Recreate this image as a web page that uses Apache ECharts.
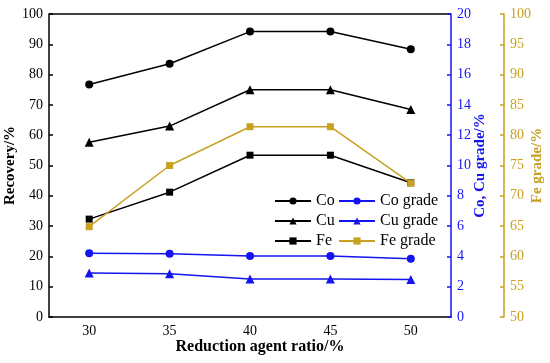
<!DOCTYPE html>
<html><head><meta charset="utf-8">
<script src="https://cdn.jsdelivr.net/npm/echarts@6/dist/echarts.min.js"></script>
<style>html,body{margin:0;padding:0;background:#fff}#c{width:550px;height:363px}</style>
</head><body><div id="c"></div>
<script>
const categories = ['30','35','40','45','50'];
const coRecovery = [76.7, 83.6, 94.2, 94.2, 88.4];
const cuRecovery = [57.7, 63.0, 75.0, 75.0, 68.5];
const feRecovery = [32.3, 41.2, 53.4, 53.4, 44.3];
const coGrade = [4.2, 4.18, 4.03, 4.02, 3.85];
const cuGrade = [2.9, 2.86, 2.51, 2.51, 2.47];
const feGrade = [64.9, 75.0, 81.4, 81.4, 72.1];

const BLUE = '#1414F0';
const GOLD = '#C9A020';
const FONT = '"Liberation Serif", "Times New Roman", serif';

const chart = echarts.init(document.getElementById('c'), null, {renderer:'canvas'});
function yAxisBase(color, min, max, interval, pos, offset, name, nameGap) {
  return {
    type:'value', min:min, max:max, interval:interval, position:pos, offset:offset,
    name:name, nameLocation:'middle', nameGap:nameGap, nameRotate:90, nameMoveOverlap:false,
    nameTextStyle:{fontFamily:FONT, fontWeight:'bold', fontSize:15, color:color},
    axisLine:{show:true, lineStyle:{color:color, width:1.5}},
    axisTick:{show:true, inside:true, length:4, lineStyle:{color:color, width:1.5}},
    axisLabel:{fontFamily:FONT, fontSize:14, color:color, margin:6},
    splitLine:{show:false}
  };
}
const lineStyleW = 1.5;
function ser(name, data, color, symbol, yIdx, size) {
  return {name:name, type:'line', data:data, yAxisIndex:yIdx, symbol:symbol, symbolSize:size,
    itemStyle:{color:color}, lineStyle:{color:color, width:lineStyleW}, animation:false};
}
chart.setOption({
  animation:false,
  grid:{left:49, right:99, top:14, bottom:46, containLabel:false, outerBoundsMode:'none'},
  legend:[
    {data:['Co','Cu','Fe'], orient:'vertical', left:269, top:188, itemWidth:36, itemHeight:9, itemGap:4,
     textStyle:{fontFamily:FONT, fontSize:16, color:'#000'}},
    {data:['Co grade','Cu grade','Fe grade'], orient:'vertical', left:333, top:188, itemWidth:36, itemHeight:9, itemGap:4,
     textStyle:{fontFamily:FONT, fontSize:16, color:'#000'}}
  ],
  xAxis:{
    type:'category', data:categories, boundaryGap:true,
    name:'Reduction agent ratio/%', nameLocation:'middle', nameGap:22, nameMoveOverlap:false,
    nameTextStyle:{fontFamily:FONT, fontWeight:'bold', fontSize:16, color:'#000', padding:[0,0,0,20], verticalAlign:'top'},
    axisLine:{lineStyle:{color:'#000', width:1.5}},
    axisTick:{alignWithLabel:true, inside:true, length:4, lineStyle:{color:'#000', width:1.5}},
    axisLabel:{fontFamily:FONT, fontSize:14, color:'#000', margin:7}
  },
  yAxis:[
    yAxisBase('#000', 0, 100, 10, 'left', 0, 'Recovery/%', 31),
    yAxisBase(BLUE, 0, 20, 2, 'right', 0, 'Co, Cu grade/%', 22),
    yAxisBase(GOLD, 50, 100, 5, 'right', 53, 'Fe grade/%', 26)
  ],
  series:[
    ser('Co', coRecovery, '#000', 'circle', 0, 8),
    ser('Cu', cuRecovery, '#000', 'triangle', 0, 9),
    ser('Fe', feRecovery, '#000', 'rect', 0, 7),
    ser('Co grade', coGrade, BLUE, 'circle', 1, 8),
    ser('Cu grade', cuGrade, BLUE, 'triangle', 1, 9),
    ser('Fe grade', feGrade, GOLD, 'rect', 2, 7)
  ],
  graphic:[{type:'line', shape:{x1:49, y1:14, x2:451, y2:14}, style:{stroke:'#000', lineWidth:1.5}}]
});
</script></body></html>
